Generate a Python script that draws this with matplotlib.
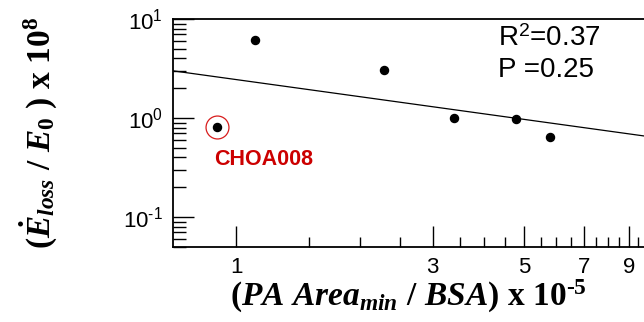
import numpy as np
import matplotlib
matplotlib.use('Agg')
from matplotlib import pyplot as plt
from matplotlib.ticker import FixedLocator, NullFormatter, LogLocator

plt.rcParams['font.family'] = ['Liberation Sans', 'DejaVu Sans']
plt.rcParams['mathtext.fontset'] = 'custom'
plt.rcParams['mathtext.rm'] = 'Liberation Serif:bold'
plt.rcParams['mathtext.it'] = 'Liberation Serif:bold:italic'
plt.rcParams['mathtext.bf'] = 'Liberation Serif:bold'

# data
area = [0.90, 1.11, 2.28, 3.38, 4.78, 5.80]
eloss = [0.81, 6.18, 3.03, 1.01, 0.99, 0.65]
outlier = 0  # CHOA008
x_major = [1, 3, 5, 7, 9]
x_minor = [1.5, 2, 2.5, 3.5, 4, 4.5, 5.5, 6, 6.5, 7.5, 8, 8.5, 9.5]
y_major = [0.1, 1, 10]
y_labels = [r'$\mathdefault{10^{‐1}}$', r'$\mathdefault{10^{0}}$', r'$\mathdefault{10^{1}}$']

red = '#cc0000'

fig = plt.figure(figsize=(6.44, 3.22), dpi=100)
ax = fig.add_axes([0.268, 0.233, 0.732, 0.708])
ax.set_xscale('log')
ax.set_yscale('log')
ax.set_xlim(0.70, 9.8)
ax.set_ylim(0.05, 10)

# power-law fit in log-log space
b, a = np.polyfit(np.log10(area), np.log10(eloss), 1)
xx = np.array([0.70, 9.8])
ax.plot(xx, 10 ** (a + b * np.log10(xx)), color='black', lw=0.9)

ax.plot(area, eloss, 'o', color='black', ms=5.8, zorder=3)
ax.plot(area[outlier], eloss[outlier], 'o', mfc='none', mec='#d81c1c',
        ms=16.5, mew=0.9, zorder=3)
ax.text(0.885, 0.385, 'CHOA008', color=red, fontsize=15.5,
        fontweight='bold', ha='left', va='center')

ax.text(0.69, 0.915, r'R$^{\mathdefault{2}}$=0.37', transform=ax.transAxes,
        fontsize=20, va='center', ha='left')
ax.text(0.69, 0.775, 'P =0.25', transform=ax.transAxes,
        fontsize=20, va='center', ha='left')

ax.xaxis.set_major_locator(FixedLocator(x_major))
ax.xaxis.set_minor_locator(FixedLocator(x_minor))
ax.set_xticklabels([str(v) for v in x_major])
ax.xaxis.set_minor_formatter(NullFormatter())
ax.yaxis.set_major_locator(FixedLocator(y_major))
ax.set_yticklabels(y_labels)
ax.yaxis.set_minor_locator(LogLocator(base=10, subs=np.arange(2, 10), numticks=10))
ax.yaxis.set_minor_formatter(NullFormatter())

ax.tick_params(which='both', direction='in', top=False, right=False,
               width=1.0, labelsize=16)
ax.tick_params(which='major', length=15, pad=7)
ax.tick_params(axis='y', which='minor', length=9)
ax.tick_params(axis='x', which='minor', length=7)

for s in ['left', 'bottom', 'top']:
    ax.spines[s].set_linewidth(1.3)
ax.spines['right'].set_visible(False)

ax.set_xlabel(r'$(PA\ Area_{min}\ /\ BSA)\ \mathrm{x}\ 10^{‐5}$', fontsize=24,
              labelpad=0)
ax.set_ylabel(r'$(\dot{E}_{loss}\ /\ E_{\mathit{0}}\ )\ \mathrm{x}\ 10^{8}$', fontsize=24,
              labelpad=46)

fig.savefig('out.png', dpi=100)
